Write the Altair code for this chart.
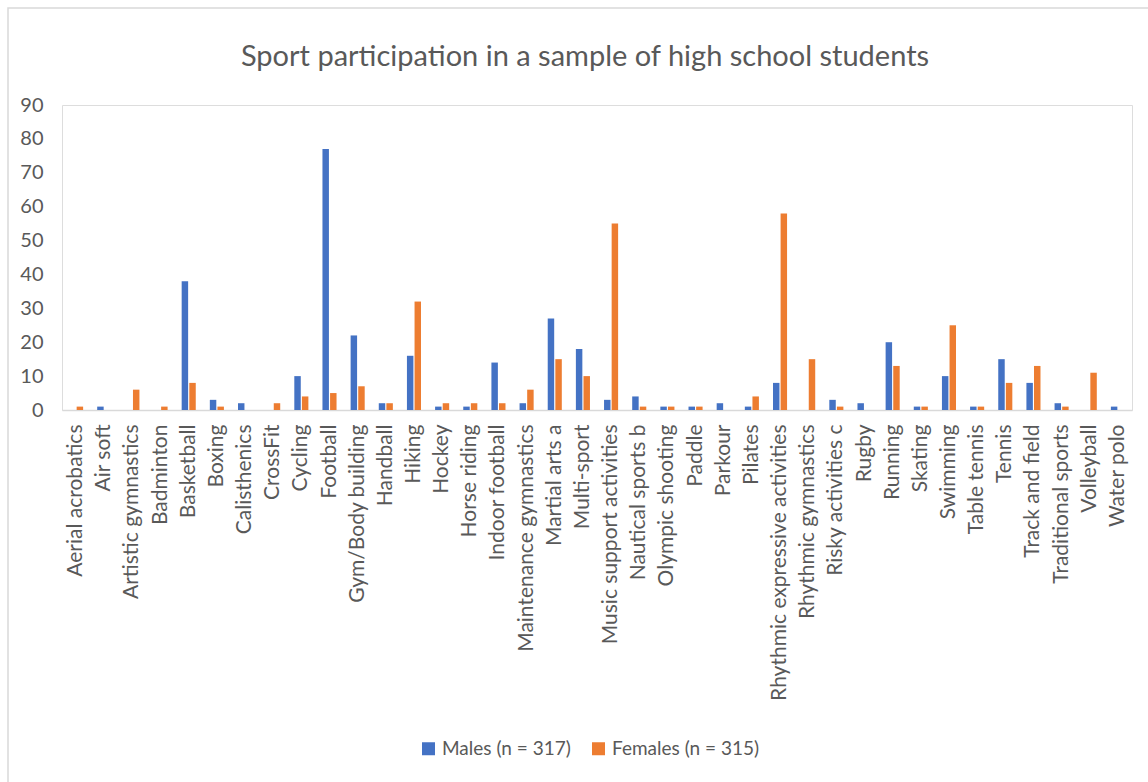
import altair as alt
import pandas as pd

categories = [
    "Aerial acrobatics", "Air soft", "Artistic gymnastics", "Badminton", "Basketball",
    "Boxing", "Calisthenics", "CrossFit", "Cycling", "Football", "Gym/Body building",
    "Handball", "Hiking", "Hockey", "Horse riding", "Indoor football",
    "Maintenance gymnastics", "Martial arts a", "Multi-sport", "Music support activities",
    "Nautical sports b", "Olympic shooting", "Paddle", "Parkour", "Pilates",
    "Rhythmic expressive activities", "Rhythmic gymnastics", "Risky activities c", "Rugby",
    "Running", "Skating", "Swimming", "Table tennis", "Tennis", "Track and field",
    "Traditional sports", "Volleyball", "Water polo",
]
males = [0, 1, 0, 0, 38, 3, 2, 0, 10, 77, 22, 2, 16, 1, 1, 14, 2, 27, 18, 3,
         4, 1, 1, 2, 1, 8, 0, 3, 2, 20, 1, 10, 1, 15, 8, 2, 0, 1]
females = [1, 0, 6, 1, 8, 1, 0, 2, 4, 5, 7, 2, 32, 2, 2, 2, 6, 15, 10, 55,
           1, 1, 1, 0, 4, 58, 15, 1, 0, 13, 1, 25, 1, 8, 13, 1, 11, 0]
series = ["Males (n = 317)", "Females (n = 315)"]
colors = ["#4472C4", "#ED7D31"]
y_ticks = [0, 10, 20, 30, 40, 50, 60, 70, 80, 90]
title_text = "Sport participation in a sample of high school students"

rows = []
for c, m, f in zip(categories, males, females):
    rows.append({"sport": c, "group": series[0], "value": m})
    rows.append({"sport": c, "group": series[1], "value": f})
df = pd.DataFrame(rows)

FONT = "Lato"
GRAY = "#595959"

bars = alt.Chart(df).mark_bar().encode(
    x=alt.X("sport:N", sort=categories,
            scale=alt.Scale(paddingInner=0.5, paddingOuter=0.25),
            axis=alt.Axis(title=None, labelAngle=-90, labelFontSize=21, labelFont=FONT,
                          labelColor=GRAY, ticks=False, domainColor="#D9D9D9",
                          domainWidth=1.5, labelPadding=14, labelLimit=400, grid=False)),
    xOffset=alt.XOffset("group:N", sort=series,
                        scale=alt.Scale(paddingInner=0.15)),
    y=alt.Y("value:Q", scale=alt.Scale(domain=[0, 90], nice=False),
            axis=alt.Axis(title=None, values=y_ticks, labelFontSize=20, labelFont=FONT,
                          labelColor=GRAY, ticks=False, domain=False, grid=False,
                          labelPadding=19)),
    color=alt.Color("group:N", sort=series,
                    scale=alt.Scale(domain=series, range=colors),
                    legend=alt.Legend(title=None, orient="none", legendX=357, legendY=634,
                                      direction="horizontal", symbolType="square",
                                      symbolSize=169, symbolStrokeWidth=0,
                                      labelFontSize=19, labelFont=FONT, labelColor=GRAY,
                                      columnPadding=18, labelOffset=4)),
)

border = alt.Chart(pd.DataFrame({"a": [0]})).mark_rect(
    fill=None, stroke="#D9D9D9", strokeWidth=1.5
).encode(
    x=alt.value(-54), x2=alt.value(1120), y=alt.value(-97), y2=alt.value(720)
)

title = alt.Chart(pd.DataFrame({"t": [title_text]})).mark_text(
    font=FONT, fontSize=29, color=GRAY, align="center", baseline="middle"
).encode(
    text="t:N", x=alt.value(523), y=alt.value(-48)
)

chart = alt.layer(border, bars, title).properties(
    width=1070,
    height=305,
    autosize=alt.AutoSizeParams(type="none"),
    padding={"left": 62, "top": 105, "right": 16, "bottom": 372},
).configure_view(stroke=None).configure(background="white")

chart.save("out.html", embed_options={"renderer": "svg", "actions": False})
